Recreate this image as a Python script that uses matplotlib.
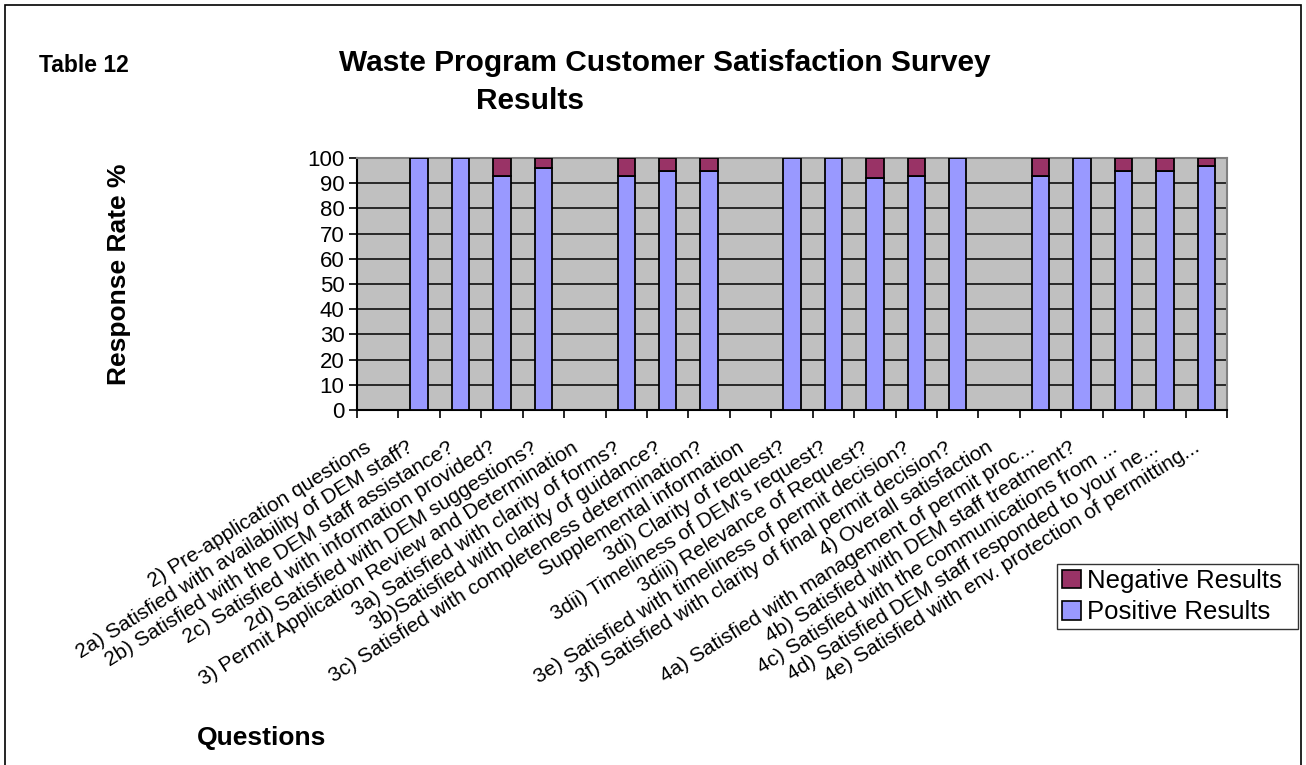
import matplotlib
matplotlib.use("Agg")
import matplotlib.pyplot as plt
import matplotlib.transforms as mtransforms
from matplotlib.patches import Rectangle, Patch
import numpy as np

categories = [
    "2) Pre-application questions",
    "2a) Satisfied with availability of DEM staff?",
    "2b) Satisfied with the DEM staff assistance?",
    "2c) Satisfied with information provided?",
    "2d) Satisfied with DEM suggestions?",
    "3) Permit Application Review and Determination",
    "3a) Satisfied with clarity of forms?",
    "3b)Satisfied with clarity of guidance?",
    "3c) Satisfied with completeness determination?",
    "Supplemental information",
    "3di) Clarity of request?",
    "3dii) Timeliness of DEM's request?",
    "3diii) Relevance of Request?",
    "3e) Satisfied with timeliness of permit decision?",
    "3f) Satisfied with clarity of final permit decision?",
    "4) Overall satisfaction",
    "4a) Satisfied with management of permit proc...",
    "4b) Satisfied with DEM staff treatment?",
    "4c) Satisfied with the communications from ...",
    "4d) Satisfied DEM staff responded to your ne...",
    "4e) Satisfied with env. protection of permitting...",
]
positive = [0, 100, 100, 93, 96, 0, 93, 95, 95, 0, 100, 100, 92, 93, 100, 0, 93, 100, 95, 95, 97]
negative = [0, 0, 0, 7, 4, 0, 7, 5, 5, 0, 0, 0, 8, 7, 0, 0, 7, 0, 5, 5, 3]
yticks = [0, 10, 20, 30, 40, 50, 60, 70, 80, 90, 100]

POS_COLOR = '#9999FF'
NEG_COLOR = '#993366'

W, H = 1306, 765
plt.rcParams['font.family'] = ['Liberation Sans', 'DejaVu Sans']
fig = plt.figure(figsize=(W / 100, H / 100), dpi=100)
fig.patch.set_facecolor('white')

def fx(x):
    return x / W

def fy(y):
    return 1 - y / H

# outer border
fig.add_artist(Rectangle((fx(5), fy(790)), fx(1301) - fx(5), fy(5) - fy(790),
                         transform=fig.transFigure, fill=False, edgecolor='black', lw=1.2))

left, right, top, bottom = 357, 1227, 158, 410
ax = fig.add_axes([fx(left), fy(bottom), fx(right) - fx(left), fy(top) - fy(bottom)])
ax.set_facecolor('#C0C0C0')

x = np.arange(len(categories))
bw = 0.42
pos_bars = ax.bar(x, positive, bw, color=POS_COLOR, edgecolor='black', linewidth=1.3, zorder=3)
neg_bars = ax.bar(x, negative, bw, bottom=positive, color=NEG_COLOR, edgecolor='black', linewidth=1.3, zorder=3)
for c in (pos_bars, neg_bars):
    for rect in c:
        if rect.get_height() == 0:
            rect.set_visible(False)

ax.set_xlim(-0.5, len(categories) - 0.5)
ax.set_ylim(0, 100)
ax.set_yticks(yticks)
ax.set_yticklabels([str(v) for v in yticks], fontsize=16)
ax.yaxis.grid(True, color='black', linewidth=1.1, zorder=1)
ax.set_axisbelow(True)
ax.tick_params(axis='y', direction='out', length=6, width=1.2, pad=3)

ax.set_xticks(x)
ax.set_xticklabels(categories, rotation=32, ha='right', rotation_mode='anchor', fontsize=15)
ax.tick_params(axis='x', which='major', length=0, pad=18)
ax.set_xticks(np.arange(-0.5, len(categories), 1), minor=True)
ax.tick_params(axis='x', which='minor', direction='out', length=6, width=1.2)
shift = mtransforms.ScaledTranslation(-0.13, -0.03, fig.dpi_scale_trans)
for lbl in ax.get_xticklabels():
    lbl.set_transform(lbl.get_transform() + shift)

for side in ['top', 'right']:
    ax.spines[side].set_color('#808080')
    ax.spines[side].set_linewidth(1.5)
for side in ['left', 'bottom']:
    ax.spines[side].set_color('black')
    ax.spines[side].set_linewidth(1.5)

handles = [Patch(facecolor=NEG_COLOR, edgecolor='black', linewidth=1.2),
           Patch(facecolor=POS_COLOR, edgecolor='black', linewidth=1.2)]
labels = ['Negative Results', 'Positive Results']
leg = fig.legend(handles, labels, loc='center left',
                 bbox_to_anchor=(fx(1057), fy(636), fx(1298) - fx(1057), fy(557) - fy(636)),
                 mode='expand', fontsize=18.5, frameon=True, fancybox=False, edgecolor='black',
                 handlelength=0.75, handleheight=0.75, handletextpad=0.2, borderpad=0.2,
                 labelspacing=0.28, borderaxespad=0)
leg.get_frame().set_linewidth(1.0)

fig.text(fx(39), fy(65), "Table 12", fontsize=16.5, fontweight='bold', ha='left', va='center')
fig.text(fx(665), fy(63), "Waste Program Customer Satisfaction Survey", fontsize=21.5,
         fontweight='bold', ha='center', va='center')
fig.text(fx(530), fy(101), "Results", fontsize=21.5, fontweight='bold', ha='center', va='center')
fig.text(fx(119), fy(274), "Response Rate %", fontsize=19, fontweight='bold', rotation=90,
         ha='center', va='center')
fig.text(fx(262), fy(738), "Questions", fontsize=19, fontweight='bold', ha='center', va='center')

fig.savefig('out.png', dpi=100)
